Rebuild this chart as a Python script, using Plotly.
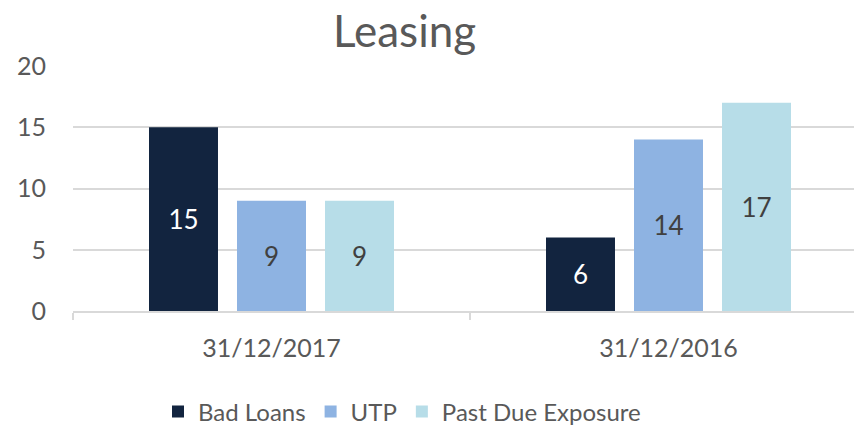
import plotly.graph_objects as go

# data
categories = ["31/12/2017", "31/12/2016"]
bad_loans = [15, 6]
utp = [9, 14]
past_due = [9, 17]
y_ticks = [0, 5, 10, 15, 20]

NAVY = "#12243F"
BLUE = "#8EB3E2"
CYAN = "#B7DDE8"
TEXT = "#595959"
GRID = "#D9D9D9"
FONT = "Lato"

# the page body has an 8px margin, so the figure is drawn 8px smaller
OFF = 8
W, H = 862 - OFF, 425 - OFF
L, R, T = 73 - OFF, 0, 66 - OFF
B = H - (311 - OFF)

series = [
    ("Bad Loans", bad_loans, NAVY, "white"),
    ("UTP", utp, BLUE, "#404040"),
    ("Past Due Exposure", past_due, CYAN, "#404040"),
]

fig = go.Figure()
for name, vals, color, tcol in series:
    fig.add_trace(go.Bar(
        x=categories, y=vals, name=name, marker_color=color,
        marker_line_width=0,
        text=vals, textposition="inside", insidetextanchor="middle",
        textfont=dict(color=tcol, size=26, family=FONT),
    ))

fig.update_layout(
    width=W, height=H,
    margin=dict(l=L, r=R, t=T, b=B, autoexpand=False),
    paper_bgcolor="white", plot_bgcolor="white",
    font=dict(family=FONT, color=TEXT, size=24),
    barmode="group", bargap=0.335, bargroupgap=0.216,
    showlegend=True,
    legend=dict(orientation="h", xref="container", yref="container",
                x=(402 - OFF) / W, xanchor="center", y=1 - (412 - OFF) / H, yanchor="middle",
                font=dict(size=24, color=TEXT), itemwidth=30, traceorder="normal"),
    annotations=[dict(text="Leasing", xref="paper", yref="paper",
                      x=(404 - OFF - L) / (W - L), y=1 + (T - (30 - OFF)) / (H - T - B),
                      xanchor="center", yanchor="middle",
                      showarrow=False, font=dict(size=44, color=TEXT))],
)

fig.update_yaxes(range=[0, 20], tickvals=y_ticks, showgrid=True, gridcolor=GRID, gridwidth=1.5,
                 zeroline=False, showline=False, ticks="", automargin=False,
                 ticklabelstandoff=26, tickfont=dict(size=25, color=TEXT))
fig.update_xaxes(range=[-0.5, 1.5 - 5 / 397], showline=True, linecolor=GRID, linewidth=1.5,
                 ticks="outside", tickson="boundaries", ticklen=7, tickcolor=GRID, tickwidth=1.5,
                 automargin=False, ticklabelstandoff=14,
                 tickfont=dict(size=25, color=TEXT), showgrid=False)

fig.write_html("out.html")
